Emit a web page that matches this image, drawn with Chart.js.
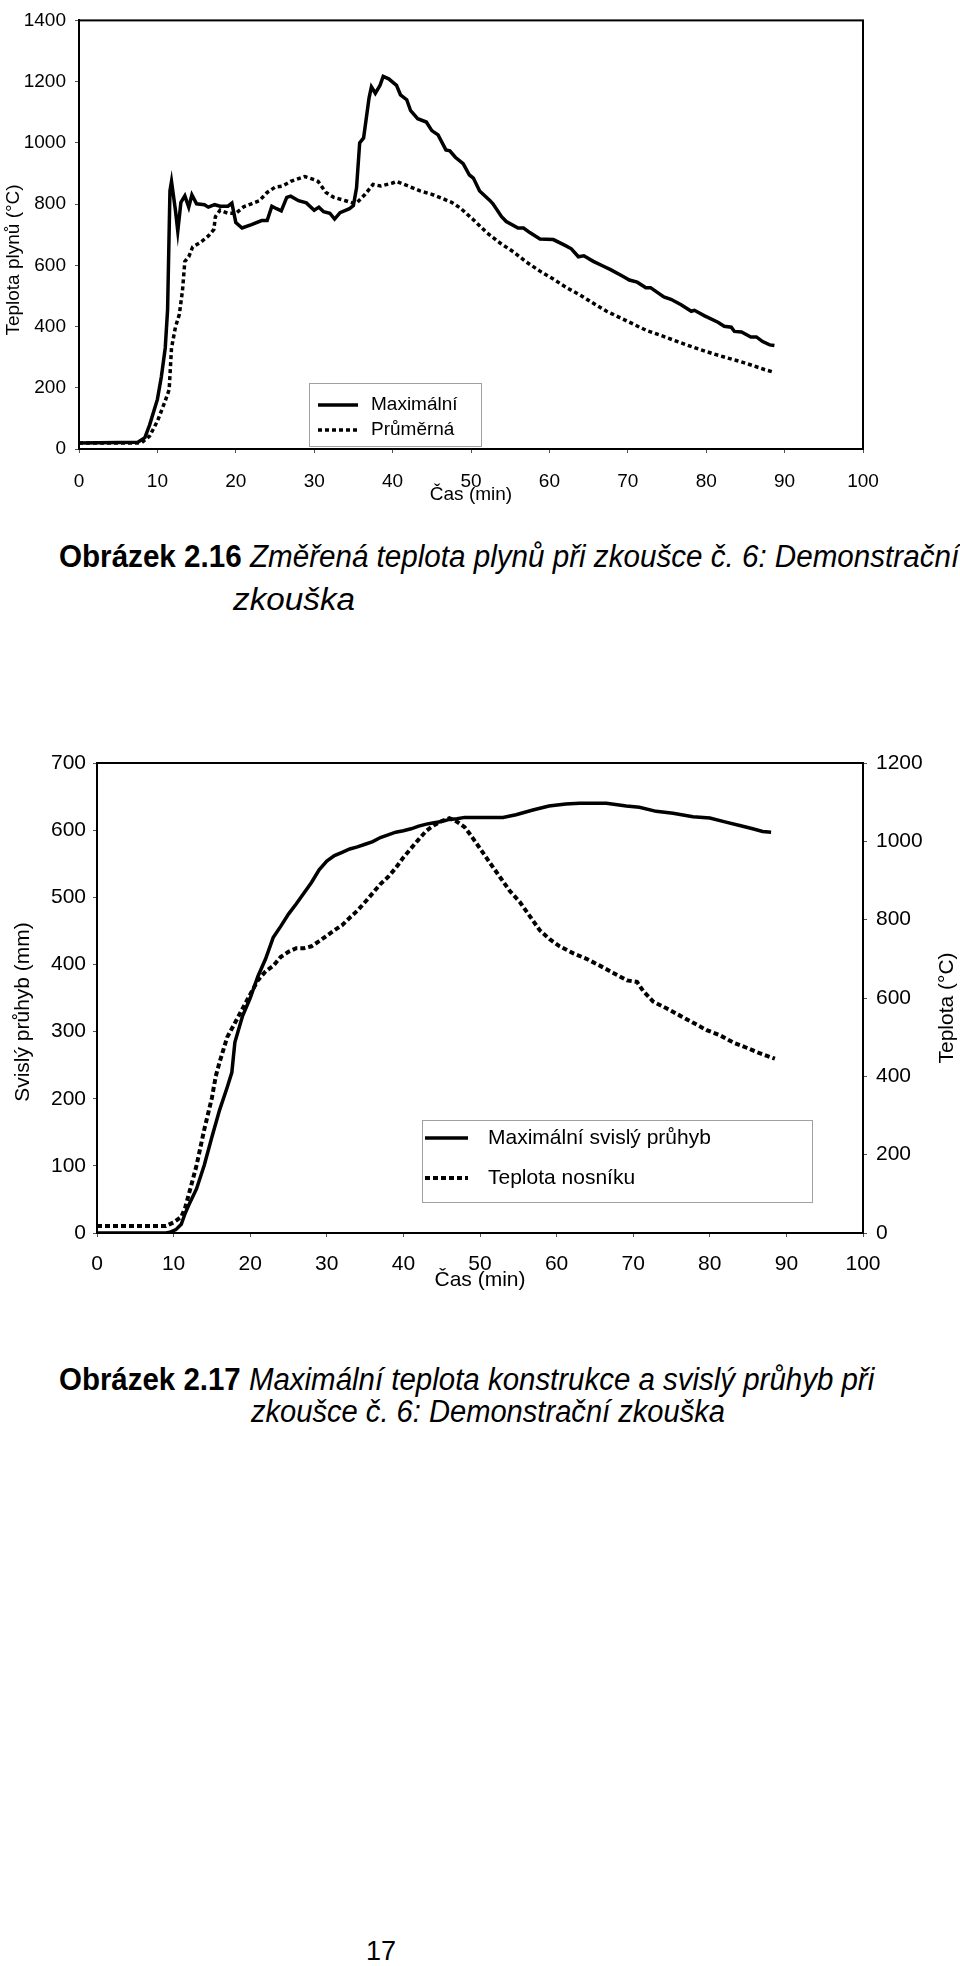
<html lang="cs">
<head>
<meta charset="UTF-8">
<title>Obrázek 2.16 a 2.17</title>
<script src="https://cdn.jsdelivr.net/npm/chart.js"></script>
<style>
  body { margin: 0; width: 960px; height: 1966px; background: #fff; position: relative; overflow: hidden;
         font-family: "Liberation Sans", Arial, sans-serif; color: #000; }
  canvas { position: absolute; left: 0; }
  .cap { position: absolute; white-space: nowrap; font-family: "Liberation Sans Narrow", "Liberation Sans", Arial, sans-serif;
         font-size: 31px; line-height: 1; transform-origin: 0 50%; }
  .cap b { font-weight: bold; }
  .cap i { font-style: italic; }
  #page { position: absolute; left: 366px; top: 1938px; font-size: 27px; line-height: 1; }
</style>
</head>
<body>
<canvas id="graf1" width="960" height="506" style="top:0"></canvas>
<div class="cap" data-w="900" style="left:59px; top:541px"><b>Obrázek 2.16</b> <i>Změřená teplota plynů při zkoušce č. 6: Demonstrační</i></div>
<div class="cap" data-w="122" style="left:233px; top:584px"><i>zkouška</i></div>

<canvas id="graf2" width="960" height="553" style="top:740px"></canvas>
<div class="cap" data-w="815" style="left:59px; top:1364px"><b>Obrázek 2.17</b> <i>Maximální teplota konstrukce a svislý průhyb při</i></div>
<div class="cap" data-w="474" style="left:251px; top:1396px"><i>zkoušce č. 6: Demonstrační zkouška</i></div>

<div id="page">17</div>

<script>
// --- Obrázek 2.16: teplota plynů (°C) v čase (min)
const casMax = [0, 7.5, 8.4, 9, 10, 10.5, 11, 11.3, 11.6, 11.8, 12.3, 12.6, 13, 13.5, 14, 14.4, 15, 16, 16.5, 17.3,
  18, 19, 19.5, 20, 20.8, 22, 23.3, 24, 24.6, 25.2, 25.8, 26.5, 27, 28, 29, 30, 30.6, 31.2, 32, 32.6,
  33.3, 34.5, 35, 35.4, 35.8, 36.3, 37, 37.3, 37.8, 38.4, 38.8, 39.5, 40.5, 41, 41.8, 42.3, 43.2, 44.3, 45, 45.8,
  46.8, 47.3, 48, 49, 49.8, 50.3, 51.1, 52.4, 52.8, 53.9, 54.5, 56, 56.7, 57.5, 58.8, 60.5, 62, 62.8, 63.7, 64.4,
  65.6, 66.9, 67.8, 69.3, 70.2, 71.2, 72.3, 72.9, 74.6, 75.5, 76.8, 78.1, 78.5, 79.8, 81.5, 82.3, 83.2, 83.6, 84.5, 85.7,
  86.4, 87.2, 88.1, 88.7];
const teplotaMax = [20, 22, 37, 78, 162, 235, 330, 455, 843, 874, 780, 712, 806, 827, 790, 830, 801, 798, 790, 798,
  793, 793, 803, 740, 722, 733, 746, 746, 793, 785, 778, 822, 826, 811, 804, 780, 790, 775, 770, 751,
  772, 785, 795, 853, 1000, 1016, 1147, 1183, 1162, 1188, 1217, 1209, 1188, 1157, 1141, 1105, 1079, 1068, 1040, 1026,
  977, 974, 953, 932, 895, 885, 843, 812, 801, 759, 743, 722, 722, 707, 686, 684, 665, 654, 628, 631,
  613, 597, 586, 565, 552, 545, 527, 527, 497, 489, 471, 450, 453, 435, 414, 401, 398, 384, 382, 366,
  366, 351, 340, 338];

const casPrumer = [0, 7.5, 8, 9, 10, 11, 11.5, 11.8, 12.3, 12.8, 13.2, 13.5, 14, 14.5, 15.5, 16.5, 17.2, 17.4, 18, 19,
  20, 21, 22, 23, 24, 25, 26, 27, 28, 28.8, 30, 30.5, 31.5, 32.5, 34, 35, 35.5, 36.5, 37.5, 38.5,
  40, 40.5, 42, 43.5, 45, 46, 47.5, 48.6, 50.3, 52, 53.7, 55.4, 57.1, 58.8, 60.5, 62.2, 63.9, 65.6, 67.3, 69,
  70.7, 72.4, 74.1, 75.8, 77.5, 79.2, 80.9, 82.6, 84.3, 86, 87.5, 88.6];
const teplotaPrumer = [20, 20, 21, 42, 91, 157, 194, 330, 398, 440, 518, 613, 628, 660, 675, 696, 717, 759, 780, 770,
  770, 791, 801, 811, 838, 855, 859, 874, 883, 890, 880, 874, 838, 822, 811, 803, 806, 832, 864, 859,
  869, 874, 859, 843, 832, 822, 806, 788, 749, 707, 673, 644, 610, 581, 555, 527, 503, 476, 450, 429,
  408, 387, 372, 356, 340, 325, 311, 298, 286, 272, 259, 251];

// --- Obrázek 2.17: svislý průhyb (mm) a teplota nosníku (°C)
const casPruhyb = [0, 9, 9.5, 10.3, 11, 11.5, 12, 13, 14, 15, 16, 17, 17.6, 18, 19, 20, 21, 22, 23, 24,
  25, 26, 27, 28, 29, 30, 31, 32, 33, 34, 35, 36, 37, 38, 39, 40, 41, 42, 43, 44,
  45, 46, 47, 48, 53, 54.7, 56.9, 59, 61.2, 63, 66.5, 69.1, 70.8, 73, 75.2, 77.8, 80, 82.1, 83.9, 85.6,
  86.9, 88];
const pruhyb = [0, 0, 1, 5, 13, 29, 42, 66, 101, 143, 183, 217, 239, 284, 323, 350, 382, 408, 440, 457,
  475, 490, 506, 522, 541, 554, 562, 567, 572, 575, 579, 583, 589, 593, 597, 599, 602, 606, 609, 611,
  613, 616, 617, 619, 619, 623, 630, 636, 639, 640, 640, 636, 634, 628, 625, 620, 618, 612, 607, 602,
  598, 597];

const casNosnik = [0, 9, 10, 11, 11.5, 12, 12.5, 13, 14, 15, 15.5, 16, 17, 18, 19, 20, 21, 22, 23, 24,
  25, 26, 27, 28, 29, 30, 31, 32, 33, 34, 35, 36, 37, 38, 39, 40, 41, 42, 43, 44,
  45, 46, 47, 48, 48.7, 50, 51.3, 52.6, 53.9, 55.2, 56.5, 57.8, 59.1, 60.4, 62.2, 63.9, 65.7, 67.4, 69.2, 70.5,
  71.3, 72.6, 74.4, 76.1, 77.9, 79.6, 81.3, 83.1, 84.8, 86.5, 88.5];
const teplotaNosnik = [18, 18, 27, 41, 64, 100, 136, 173, 264, 345, 400, 436, 500, 536, 573, 609, 645, 668, 682, 705,
  718, 727, 727, 732, 745, 759, 773, 786, 805, 823, 845, 868, 891, 909, 932, 959, 982, 1005, 1027, 1041,
  1052, 1059, 1050, 1036, 1018, 982, 945, 909, 873, 845, 809, 773, 750, 732, 714, 700, 682, 664, 645, 641,
  618, 591, 573, 555, 536, 518, 505, 486, 473, 459, 445];

function body(xs, ys) { return xs.map((x, i) => ({ x: x, y: ys[i] })); }
function cislo(v) { return String(v); }   // bez oddělovače tisíců

Chart.defaults.font.family = '"Liberation Sans", Arial, sans-serif';
Chart.defaults.color = '#000';

// rámeček kolem plochy grafu
const ramecek = {
  id: 'ramecek',
  afterDatasetsDraw(chart) {
    const a = chart.chartArea, c = chart.ctx;
    c.save();
    c.strokeStyle = '#000'; c.lineWidth = 2;
    c.strokeRect(a.left, a.top, a.right - a.left, a.bottom - a.top);
    c.restore();
  }
};

// legenda v rámečku jako v Excelu
const boxLegenda = {
  id: 'boxLegenda',
  afterDraw(chart, args, o) {
    if (!o.w) return;
    const c = chart.ctx;
    c.save();
    c.fillStyle = '#fff';
    c.fillRect(o.x, o.y, o.w, o.h);
    c.strokeStyle = '#a0a0a0'; c.lineWidth = 1;
    c.strokeRect(o.x + 0.5, o.y + 0.5, o.w, o.h);
    c.font = o.font; c.textBaseline = 'middle'; c.fillStyle = '#000';
    chart.data.datasets.forEach((ds, i) => {
      const yy = o.y + o.rows[i];
      c.beginPath();
      c.setLineDash(ds.borderDash || []);
      c.lineWidth = ds.borderWidth; c.strokeStyle = ds.borderColor;
      c.moveTo(o.x + o.line[0], yy); c.lineTo(o.x + o.line[1], yy); c.stroke();
      c.setLineDash([]);
      c.fillText(ds.label, o.x + o.textX, yy);
    });
    c.restore();
  }
};

// svislé popisky os (čtené zdola nahoru, i na pravé ose)
const popiskyOs = {
  id: 'popiskyOs',
  afterDraw(chart, args, o) {
    const c = chart.ctx;
    (o.items || []).forEach(t => {
      c.save();
      c.translate(t.x, t.y); c.rotate(-Math.PI / 2);
      c.font = t.font; c.textAlign = 'center'; c.textBaseline = 'middle'; c.fillStyle = '#000';
      c.fillText(t.text, 0, 0);
      c.restore();
    });
  }
};

const osa = { display: true, color: '#000', width: 2 };
const mrizka = { drawOnChartArea: false, drawTicks: true, tickLength: 4, color: '#555' };

new Chart(document.getElementById('graf1'), {
  type: 'line',
  data: {
    datasets: [
      { label: 'Maximální', data: body(casMax, teplotaMax), borderColor: '#000', borderWidth: 3.5,
        pointRadius: 0, tension: 0 },
      { label: 'Průměrná', data: body(casPrumer, teplotaPrumer), borderColor: '#000', borderWidth: 3.5,
        borderDash: [4, 3], pointRadius: 0, tension: 0 }
    ]
  },
  options: {
    responsive: false, animation: false, events: [],
    layout: { padding: { top: 10, right: 97, bottom: 0, left: 0 } },
    plugins: {
      legend: { display: false }, tooltip: { enabled: false },
      boxLegenda: { x: 309, y: 383, w: 172, h: 63, rows: [22, 47], line: [9, 49], textX: 62,
                    font: '19px "Liberation Sans", Arial, sans-serif' },
      popiskyOs: { items: [{ text: 'Teplota plynů (°C)', x: 14, y: 260, font: '19px "Liberation Sans", Arial, sans-serif' }] }
    },
    scales: {
      x: {
        type: 'linear', min: 0, max: 100,
        ticks: { stepSize: 10, font: { size: 19 }, padding: 17, maxRotation: 0, callback: cislo },
        grid: mrizka, border: osa,
        title: { display: true, text: 'Čas (min)', font: { size: 19 }, padding: 0 },
        afterFit(s) { s.height = 57; }
      },
      y: {
        min: 0, max: 1400,
        ticks: { stepSize: 200, font: { size: 19 }, padding: 9, callback: cislo },
        grid: mrizka, border: osa,
        afterFit(s) { s.width = 79; }
      }
    }
  },
  plugins: [ramecek, boxLegenda, popiskyOs]
});

new Chart(document.getElementById('graf2'), {
  type: 'line',
  data: {
    datasets: [
      { label: 'Maximální svislý průhyb', data: body(casPruhyb, pruhyb), yAxisID: 'y', borderColor: '#000',
        borderWidth: 3.5, pointRadius: 0, tension: 0 },
      { label: 'Teplota nosníku', data: body(casNosnik, teplotaNosnik), yAxisID: 'y2', borderColor: '#000',
        borderWidth: 4, borderDash: [5, 3], pointRadius: 0, tension: 0 }
    ]
  },
  options: {
    responsive: false, animation: false, events: [],
    layout: { padding: { top: 23, right: 0, bottom: 0, left: 0 } },
    plugins: {
      legend: { display: false }, tooltip: { enabled: false },
      boxLegenda: { x: 422, y: 380, w: 390, h: 82, rows: [18, 58], line: [3, 46], textX: 66,
                    font: '21px "Liberation Sans", Arial, sans-serif' },
      popiskyOs: { items: [
        { text: 'Svislý průhyb (mm)', x: 23, y: 272, font: '21px "Liberation Sans", Arial, sans-serif' },
        { text: 'Teplota (°C)', x: 947, y: 268, font: '21px "Liberation Sans", Arial, sans-serif' }
      ] }
    },
    scales: {
      x: {
        type: 'linear', min: 0, max: 100,
        ticks: { stepSize: 10, font: { size: 21 }, padding: 15, maxRotation: 0, callback: cislo },
        grid: mrizka, border: osa,
        title: { display: true, text: 'Čas (min)', font: { size: 21 }, padding: 0 },
        afterFit(s) { s.height = 60; }
      },
      y: {
        position: 'left', min: 0, max: 700,
        ticks: { stepSize: 100, font: { size: 21 }, padding: 7, callback: cislo },
        grid: mrizka, border: osa,
        afterFit(s) { s.width = 97; }
      },
      y2: {
        position: 'right', min: 0, max: 1200,
        ticks: { stepSize: 200, font: { size: 21 }, padding: 9, callback: cislo },
        grid: mrizka, border: osa,
        afterFit(s) { s.width = 97; }
      }
    }
  },
  plugins: [ramecek, boxLegenda, popiskyOs]
});

// popisky obrázků stáhnout na šířku jako v předloze
document.querySelectorAll('.cap').forEach(el => {
  const w = +el.dataset.w, real = el.getBoundingClientRect().width;
  if (real > 0) el.style.transform = 'scaleX(' + (w / real).toFixed(3) + ')';
});
</script>
</body>
</html>
